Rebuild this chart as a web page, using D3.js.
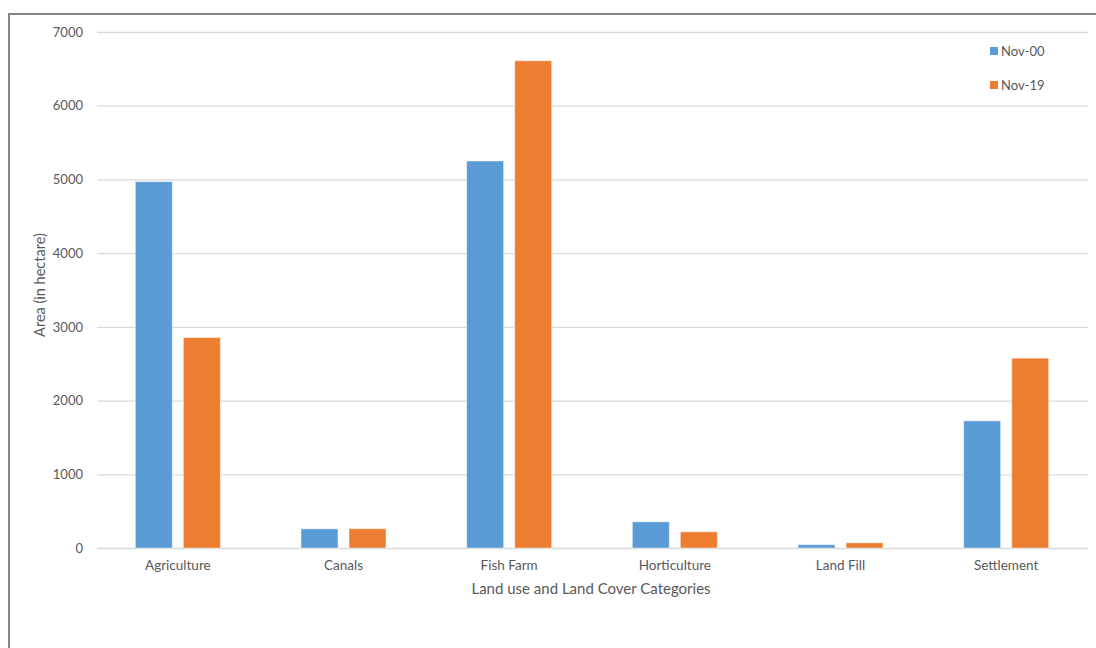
<!DOCTYPE html>
<html>
<head>
<meta charset="utf-8">
<script src="https://cdn.jsdelivr.net/npm/d3@7"></script>
<style>
  html, body { margin: 0; padding: 0; background: #fff; }
  svg { display: block; }
  text { font-family: Lato, "Open Sans", sans-serif; fill: #595959; }
</style>
</head>
<body>
<svg id="chart" width="1096" height="648"></svg>
<script>
// Land use / land cover areas (hectare)
const categories = ["Agriculture", "Canals", "Fish Farm", "Horticulture", "Land Fill", "Settlement"];
const seriesNames = ["Nov-00", "Nov-19"];
const nov00 = [4970, 260, 5250, 355, 45, 1725];
const nov19 = [2855, 262, 6610, 220, 70, 2575];
const yTicks = [0, 1000, 2000, 3000, 4000, 5000, 6000, 7000];
const colors = ["#5B9BD5", "#ED7D31"];

const svg = d3.select("#chart");

// outer frame (extends past the right and bottom edges)
svg.append("rect")
  .attr("x", 9).attr("y", 14)
  .attr("width", 1200).attr("height", 800)
  .attr("fill", "none").attr("stroke", "#858585").attr("stroke-width", 2);

const plot = { left: 95, right: 1089, top: 32, bottom: 548 };

const x = d3.scaleBand().domain(categories).range([plot.left, plot.right]);
const x1 = d3.scaleBand().domain(seriesNames).range([0, x.bandwidth()]).paddingInner(0.23).paddingOuter(0.84);
const y = d3.scaleLinear().domain([0, 7000]).range([plot.bottom, plot.top]);

// gridlines + y tick labels
const yAxis = d3.axisLeft(y).tickValues(yTicks).tickSize(-(plot.right - plot.left - 3)).tickPadding(14).tickFormat(d3.format("d"));
const gy = svg.append("g").attr("transform", `translate(${plot.left + 2},0)`).call(yAxis);
gy.select(".domain").remove();
gy.selectAll(".tick line").attr("stroke", "#d9d9d9").attr("stroke-width", 1.3);
gy.selectAll(".tick text").attr("font-size", 13).attr("fill", "#595959").style("font-family", "Lato, sans-serif");

// bars
const rows = categories.map((c, i) => ({ cat: c, vals: [nov00[i], nov19[i]] }));
const groups = svg.append("g").selectAll("g").data(rows).join("g")
  .attr("transform", d => `translate(${x(d.cat)},0)`);
groups.selectAll("rect")
  .data(d => d.vals.map((v, j) => ({ name: seriesNames[j], v, j })))
  .join("rect")
  .attr("x", d => x1(d.name))
  .attr("width", x1.bandwidth())
  .attr("y", d => y(d.v))
  .attr("height", d => y(0) - y(d.v))
  .attr("fill", d => colors[d.j])
  .attr("stroke", "#ffffff").attr("stroke-opacity", 0.45).attr("stroke-width", 1);

// category labels
const xAxis = d3.axisBottom(x).tickSize(0).tickPadding(12);
const gx = svg.append("g").attr("transform", `translate(0,${plot.bottom})`).call(xAxis);
gx.select(".domain").remove();
gx.selectAll(".tick text").attr("font-size", 13.5).attr("fill", "#595959").style("font-family", "Lato, sans-serif");

// axis titles
svg.append("text")
  .attr("x", (plot.left + plot.right) / 2 - 1).attr("y", 594)
  .attr("text-anchor", "middle").attr("font-size", 15)
  .text("Land use and Land Cover Categories");

svg.append("text")
  .attr("transform", "translate(45,285) rotate(-90)")
  .attr("text-anchor", "middle").attr("font-size", 14.5)
  .text("Area (in hectare)");

// legend
const legend = svg.append("g").selectAll("g").data(seriesNames).join("g")
  .attr("transform", (d, i) => `translate(990,${47 + i * 34})`);
legend.append("rect").attr("width", 8).attr("height", 8).attr("fill", (d, i) => colors[i]);
legend.append("text").attr("x", 11).attr("y", 8.5).attr("font-size", 13).text(d => d);
</script>
</body>
</html>
